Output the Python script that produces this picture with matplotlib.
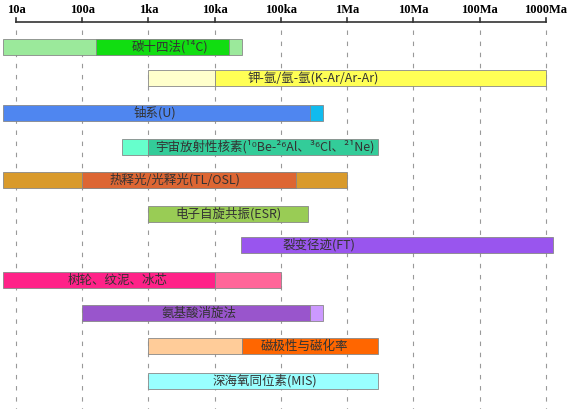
import matplotlib
matplotlib.use("Agg")
import matplotlib.pyplot as plt

plt.rcParams['font.family'] = ['Noto Sans CJK SC', 'DejaVu Sans']

# Диапазоны методов датирования, log10(лет)
methods = ["碳十四法(¹⁴C)", "钾-氩/氩-氩(K-Ar/Ar-Ar)", "铀系(U)",
           "宇宙放射性核素(¹⁰Be-²⁶Al、³⁶Cl、²¹Ne)", "热释光/光释光(TL/OSL)",
           "电子自旋共振(ESR)", "裂变径迹(FT)", "树轮、纹泥、冰芯",
           "氨基酸消旋法", "磁极性与磁化率", "深海氧同位素(MIS)"]
# каждый метод: список сегментов (начало, конец, цвет)
segments = [
    [(0.8, 4.41, "#9be99b"), (2.21, 4.22, "#11dd11")],
    [(3.0, 4.0, "#ffffcc"), (4.0, 9.0, "#ffff55")],
    [(0.8, 5.44, "#4f86f0"), (5.44, 5.64, "#11bbee")],
    [(2.6, 3.0, "#66ffcc"), (3.0, 6.47, "#33cc99")],
    [(0.8, 6.0, "#d99a2b"), (2.0, 5.23, "#dd6633")],
    [(3.0, 5.41, "#99cc55")],
    [(4.4, 9.11, "#9955ee")],
    [(0.8, 4.0, "#ff2288"), (4.0, 5.0, "#ff6699")],
    [(2.0, 5.44, "#9955cc"), (5.44, 5.64, "#cc99ff")],
    [(3.0, 4.41, "#ffcc99"), (4.41, 6.47, "#ff6600")],
    [(3.0, 6.47, "#99ffff")],
]
label_pos = [3.32, 5.49, 3.10, 4.76, 3.4, 4.2, 5.57, 2.54, 3.77, 5.36, 4.76]
rows = [47, 78, 113, 147, 180, 214, 245, 280, 313, 346, 381]

tick_exp = [1, 2, 3, 4, 5, 6, 7, 8, 9]
tick_labels = ["10a", "100a", "1ka", "10ka", "100ka", "1Ma", "10Ma", "100Ma", "1000Ma"]

fig = plt.figure(figsize=(5.75, 4.09), dpi=100)
ax = fig.add_axes([0, 0, 1, 1])
ax.set_xscale("log")
ax.set_xlim(10 ** 0.758, 10 ** 9.44)
ax.set_ylim(409, 0)
ax.axis("off")

# ось времени
ax.plot([10 ** 1, 10 ** 9], [22, 22], color="#333333", lw=1.2)
for e, lab in zip(tick_exp, tick_labels):
    ax.plot([10 ** e, 10 ** e], [18, 22], color="#333333", lw=1.2)
    ax.vlines(10 ** e, 30, 409, colors="#999999", linestyles=(0, (4, 6)), lw=0.8, zorder=0)
    ax.text(10 ** e, 10, lab, ha="center", va="center", fontsize=9,
            fontweight="bold", family="Liberation Serif")

for y, segs, name, lp in zip(rows, segments, methods, label_pos):
    for a, b, c in segs:
        ax.barh(y, 10 ** b - 10 ** a, left=10 ** a, height=16, color=c,
                edgecolor="#888888", lw=0.6, zorder=2)
    ax.text(10 ** lp, y, name, ha="center", va="center", fontsize=9,
            color="#333333", zorder=3)

fig.savefig("out.png", dpi=100)
